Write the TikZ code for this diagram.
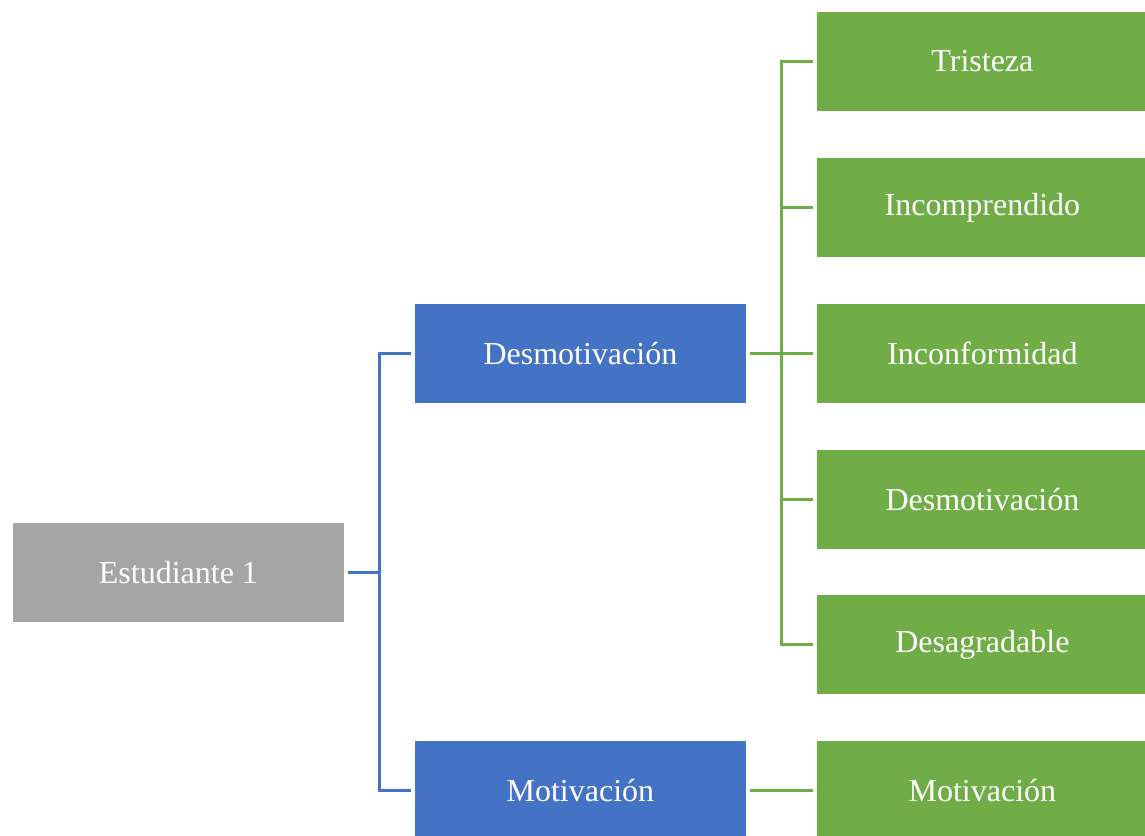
\documentclass[tikz,border=0pt]{standalone}
\usepackage{fontspec}
\setmainfont{Liberation Serif}
\definecolor{cgray}{HTML}{A5A5A5}
\definecolor{cblue}{HTML}{4472C4}
\definecolor{cgreen}{HTML}{70AD47}
\tikzset{
  base/.style={minimum width=332pt, minimum height=100pt, inner sep=0pt, text=white, font=\fontsize{32}{37}\selectfont, anchor=north west, draw=white, line width=0.8pt},
  graybox/.style={base, fill=cgray},
  bluebox/.style={base, fill=cblue},
  greenbox/.style={base, fill=cgreen},
  bline/.style={draw=cblue, line width=3pt},
  gline/.style={draw=cgreen, line width=3pt},
}
\begin{document}
\begin{tikzpicture}[x=1pt,y=1pt]
\useasboundingbox (0,0) rectangle (1145,-835);
\node[graybox] (e1) at (12,-522) {Estudiante 1};
\node[bluebox] (d) at (414,-303) {Desmotivación};
\node[bluebox] (m) at (414,-740) {Motivación};
\node[greenbox] (g1) at (816,-11) {Tristeza};
\node[greenbox] (g2) at (816,-157) {Incomprendido};
\node[greenbox] (g3) at (816,-303) {Inconformidad};
\node[greenbox] (g4) at (816,-449) {Desmotivación};
\node[greenbox] (g5) at (816,-594) {Desagradable};
\node[greenbox] (g6) at (816,-740) {Motivación};
% blue connectors
\coordinate (bx) at (379,0);
\draw[bline] ([xshift=3pt]e1.east) -- (e1.east -| bx);
\draw[bline] ([xshift=-3pt]d.west) -- (d.west -| bx) -- (m.west -| bx) -- ([xshift=-3pt]m.west);
% green connectors
\coordinate (gx) at (781,0);
\draw[gline] ([xshift=3pt]d.east) -- ([xshift=-3pt]g3.west);
\draw[gline] ([xshift=-3pt]g1.west) -- (g1.west -| gx) -- (g5.west -| gx) -- ([xshift=-3pt]g5.west);
\foreach \g in {g2,g4}{
  \draw[gline] (\g.west -| gx) -- ([xshift=-3pt]\g.west);
}
\draw[gline] ([xshift=3pt]m.east) -- ([xshift=-3pt]g6.west);
\end{tikzpicture}
\end{document}
